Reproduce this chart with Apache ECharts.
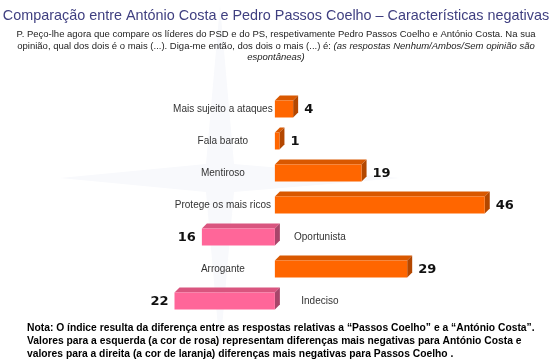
<!DOCTYPE html>
<html><head><meta charset="utf-8">
<script src="https://cdn.jsdelivr.net/npm/echarts@6/dist/echarts.min.js"></script>
<style>html,body{margin:0;padding:0;background:#fff}#c{width:552px;height:364px}</style>
</head><body><div id="c"></div>
<script>
const categories = ['Mais sujeito a ataques','Fala barato','Mentiroso','Protege os mais ricos','Oportunista','Arrogante','Indeciso'];
const values = [4, 1, 19, 46, -16, 29, -22];
const titleText = 'Comparação entre António Costa e Pedro Passos Coelho – Características negativas';
const subLine1 = 'P. Peço-lhe agora que compare os líderes do PSD e do PS, respetivamente Pedro Passos Coelho e António Costa. Na sua';
const subLine2a = 'opinião, qual dos dois é o mais (...). Diga-me então, dos dois o mais (...) é: ';
const subLine2b = '(as respostas Nenhum/Ambos/Sem opinião são';
const subLine3 = 'espontâneas)';
const noteLines = [
 'Nota: O índice resulta da diferença entre as respostas relativas a “Passos Coelho” e a “António Costa”.',
 'Valores para a esquerda (a cor de rosa) representam diferenças mais negativas para António Costa e',
 'valores para a direita (a cor de laranja) diferenças mais negativas para Passos Coelho .'
];

const chart = echarts.init(document.getElementById('c'), null, {renderer:'canvas'});
const FONT = '"Liberation Sans", Arial, sans-serif';
const D = 5, H = 17;
const pos = {front:'#FF6600', top:'#D95800', side:'#B34700'};
const neg = {front:'#FF6699', top:'#D9557F', side:'#A8456A'};

function renderItem(params, api){
  const i = api.value(0), v = api.value(1);
  const p0 = api.coord([0, i]);
  const p1 = api.coord([v, i]);
  const c = p0[1];
  const xl = Math.min(p0[0], p1[0]), xr = Math.max(p0[0], p1[0]);
  const yt = c - H/2, yb = c + H/2;
  const col = v >= 0 ? pos : neg;
  const children = [
    {type:'polygon', shape:{points:[[xl,yt],[xl+D,yt-D],[xr+D,yt-D],[xr,yt]]}, style:{fill:col.top}},
    {type:'polygon', shape:{points:[[xr,yt],[xr+D,yt-D],[xr+D,yb-D],[xr,yb]]}, style:{fill:col.side}},
    {type:'rect', shape:{x:xl, y:yt, width:xr-xl, height:H}, style:{fill:col.front}},
  ];
  const label = String(Math.abs(v));
  const vfont = 'bold 13px "DejaVu Sans", Verdana, sans-serif';
  if (v >= 0) {
    children.push({type:'text', style:{text:label, x:xr+D+6, y:c+1, align:'left', verticalAlign:'middle', font:vfont, fill:'#111'}});
    children.push({type:'text', style:{text:categories[i], x:p0[0]-52, y:c, align:'center', verticalAlign:'middle', font:'10px '+FONT, fill:'#333'}});
  } else {
    children.push({type:'text', style:{text:label, x:xl-6, y:c+1, align:'right', verticalAlign:'middle', font:vfont, fill:'#111'}});
    children.push({type:'text', style:{text:categories[i], x:p0[0]+45, y:c, align:'center', verticalAlign:'middle', font:'10px '+FONT, fill:'#333'}});
  }
  return {type:'group', children};
}

const star = {
  type:'polygon', z:-10, silent:true,
  shape:{points:[[220,5],[234,164],[400,178],[234,192],[220,350],[206,192],[60,178],[206,164]]},
  style:{fill:'#F8F9FC'}
};

chart.setOption({
  animation:false,
  backgroundColor:'#fff',
  grid:{left:138, right:49, top:93, height:224},
  xAxis:{type:'value', min:-30, max:50, show:false},
  yAxis:{type:'category', data:categories, inverse:true, show:false},
  graphic:[
    star,
    {type:'text', left:'center', top:9, style:{text:titleText, font:'14.4px '+FONT, fill:'#3F3F80'}},
    {type:'text', left:'center', top:29, style:{text:subLine1, font:'9.5px '+FONT, fill:'#222'}},
    {type:'text', left:'center', top:41, style:{
      text:'{n|'+subLine2a+'}{i|'+subLine2b+'}',
      rich:{n:{font:'9.5px '+FONT, fill:'#222'}, i:{font:'italic 9.5px '+FONT, fill:'#222'}}}},
    {type:'text', left:'center', top:52, style:{text:subLine3, font:'italic 9.5px '+FONT, fill:'#222'}},
    {type:'text', left:27, top:323, style:{text:noteLines[0], font:'bold 10.3px '+FONT, fill:'#000'}},
    {type:'text', left:27, top:336, style:{text:noteLines[1], font:'bold 10.3px '+FONT, fill:'#000'}},
    {type:'text', left:27, top:349, style:{text:noteLines[2], font:'bold 10.3px '+FONT, fill:'#000'}}
  ],
  series:[{
    type:'custom', renderItem,
    data: values.map((v,i)=>[i,v]),
    encode:{x:1, y:0}
  }]
});
</script></body></html>
